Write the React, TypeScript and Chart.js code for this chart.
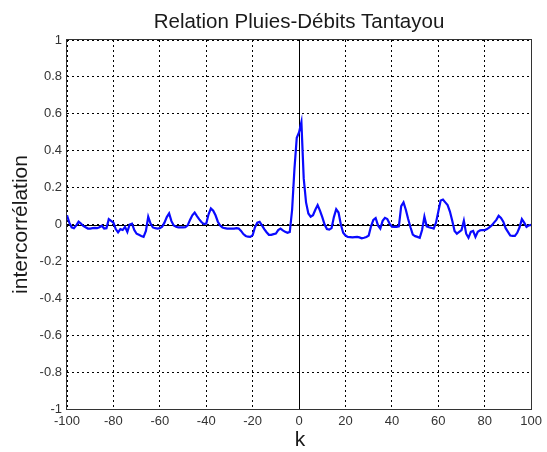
import React, { useEffect, useRef } from "react";
import { Chart, registerables } from "chart.js";

Chart.register(...registerables);

const TITLE = "Relation Pluies-Débits Tantayou";
const X_LABEL = "k";
const Y_LABEL = "intercorrélation";

const LAG_START = -100;
const X_TICKS = [-100, -80, -60, -40, -20, 0, 20, 40, 60, 80, 100];
const Y_TICKS = [-1, -0.8, -0.6, -0.4, -0.2, 0, 0.2, 0.4, 0.6, 0.8, 1];

// cross-correlation values for k = -100 .. 100
const XCORR = [
  // -100 .. -91
  0.05, 0.01, -0.015, -0.02, -0.005, 0.015, 0.005, -0.008, -0.015, -0.022,
  // -90 .. -81
  -0.022, -0.02, -0.018, -0.02, -0.015, -0.007, -0.022, -0.02, 0.029, 0.02,
  // -80 .. -71
  0.01, -0.025, -0.043, -0.025, -0.03, -0.013, -0.04, 0.0, 0.005, -0.03,
  // -70 .. -61
  -0.05, -0.056, -0.062, -0.067, -0.035, 0.042, 0.005, -0.016, -0.02, -0.022,
  // -60 .. -51
  -0.02, -0.012, 0.01, 0.04, 0.06, 0.018, -0.005, -0.012, -0.016, -0.016,
  // -50 .. -41
  -0.016, -0.015, -0.005, 0.025, 0.05, 0.065, 0.045, 0.028, 0.012, 0.002,
  // -40 .. -31
  0.005, 0.055, 0.087, 0.075, 0.05, 0.015, -0.006, -0.016, -0.02, -0.022,
  // -30 .. -21
  -0.022, -0.022, -0.022, -0.02, -0.022, -0.035, -0.052, -0.062, -0.066, -0.067,
  // -20 .. -11
  -0.058, -0.015, 0.01, 0.014, -0.005, -0.025, -0.042, -0.056, -0.056, -0.052,
  // -10 .. -1
  -0.049, -0.03, -0.022, -0.032, -0.04, -0.045, -0.04, 0.08, 0.3, 0.47,
  // 0 .. 9
  0.5, 0.555, 0.25, 0.12, 0.06, 0.042, 0.05, 0.08, 0.105, 0.075,
  // 10 .. 19
  0.04, 0.0, -0.025, -0.028, -0.02, 0.04, 0.083, 0.065, 0.0, -0.045,
  // 20 .. 29
  -0.06, -0.067, -0.068, -0.07, -0.068, -0.067, -0.07, -0.075, -0.072, -0.068,
  // 30 .. 39
  -0.06, -0.01, 0.025, 0.035, -0.005, -0.022, 0.02, 0.036, 0.03, 0.005,
  // 40 .. 49
  -0.012, -0.013, -0.013, -0.01, 0.1, 0.12, 0.08, 0.03, -0.015, -0.055,
  // 50 .. 59
  -0.063, -0.067, -0.072, -0.03, 0.042, -0.01, -0.015, -0.018, -0.022, 0.01,
  // 60 .. 69
  0.07, 0.13, 0.135, 0.12, 0.105, 0.07, 0.02, -0.035, -0.05, -0.04,
  // 70 .. 79
  -0.03, 0.02, -0.05, -0.072, -0.04, -0.035, -0.067, -0.04, -0.032, -0.03,
  // 80 .. 89
  -0.03, -0.025, -0.015, -0.005, 0.01, 0.025, 0.047, 0.036, 0.015, -0.02,
  // 90 .. 100
  -0.04, -0.06, -0.062, -0.062, -0.045, -0.015, 0.029, 0.01, -0.013, -0.005, -0.002,
];

const FONT = "'Liberation Sans', Arial, sans-serif";

const overlay = {
  id: "matlabOverlay",
  beforeDatasetsDraw(chart: any) {
    const { ctx, chartArea: a, scales } = chart;
    const x0 = Math.round(scales.x.getPixelForValue(0)) + 0.5;
    const y0 = Math.round(scales.y.getPixelForValue(0)) + 0.5;
    ctx.save();
    ctx.strokeStyle = "#000";
    ctx.lineWidth = 1;
    ctx.beginPath();
    ctx.moveTo(x0, a.top);
    ctx.lineTo(x0, a.bottom);
    ctx.moveTo(a.left, y0);
    ctx.lineTo(a.right, y0);
    ctx.stroke();
    ctx.restore();
  },
  afterDraw(chart: any) {
    const { ctx, chartArea: a } = chart;
    ctx.save();
    ctx.strokeStyle = "#333";
    ctx.lineWidth = 1;
    ctx.strokeRect(Math.round(a.left) - 0.5, Math.round(a.top) - 0.5, Math.round(a.right - a.left) + 1, Math.round(a.bottom - a.top) + 1);

    ctx.fillStyle = "#1a1a1a";
    ctx.textAlign = "center";
    ctx.textBaseline = "middle";
    ctx.font = `20.5px ${FONT}`;
    ctx.fillText(TITLE, 299, 22);

    ctx.font = `21px ${FONT}`;
    ctx.fillText(X_LABEL, 300, 440);

    ctx.translate(21, (a.top + a.bottom) / 2);
    ctx.rotate(-Math.PI / 2);
    ctx.fillText(Y_LABEL, 0, 0);
    ctx.restore();
  },
};

export default function App() {
  const ref = useRef<HTMLCanvasElement | null>(null);

  useEffect(() => {
    if (!ref.current) return;
    const points = XCORR.map((v, i) => ({ x: LAG_START + i, y: v }));
    const chart = new Chart(ref.current, {
      type: "line",
      data: {
        datasets: [
          {
            data: points,
            borderColor: "#0a0aff",
            borderWidth: 2.2,
            pointRadius: 0,
            tension: 0,
            fill: false,
          },
        ],
      },
      options: {
        responsive: false,
        animation: false,
        devicePixelRatio: 1,
        layout: { padding: { top: 40, right: 10, left: 0, bottom: 0 } },
        plugins: {
          legend: { display: false },
          title: { display: false },
          tooltip: { enabled: false },
        },
        scales: {
          x: {
            type: "linear",
            min: X_TICKS[0],
            max: X_TICKS[X_TICKS.length - 1],
            afterFit: (s: any) => {
              s.height = 43;
            },
            afterBuildTicks: (s: any) => {
              s.ticks = X_TICKS.map((v) => ({ value: v }));
            },
            ticks: {
              color: "#333",
              font: { family: FONT, size: 13 },
              padding: 5,
              maxRotation: 0,
              autoSkip: false,
              callback: (v: any) => String(v),
            },
            grid: { color: "#000", lineWidth: 1, drawTicks: false },
            border: { display: false, dash: [2, 3] },
          },
          y: {
            type: "linear",
            min: Y_TICKS[0],
            max: Y_TICKS[Y_TICKS.length - 1],
            afterFit: (s: any) => {
              s.width = 67;
            },
            afterBuildTicks: (s: any) => {
              s.ticks = Y_TICKS.map((v) => ({ value: v }));
            },
            ticks: {
              color: "#333",
              font: { family: FONT, size: 13 },
              padding: 5,
              autoSkip: false,
              callback: (v: any) => String(Math.round(Number(v) * 10) / 10),
            },
            grid: { color: "#000", lineWidth: 1, drawTicks: false },
            border: { display: false, dash: [2, 3] },
          },
        },
      },
      plugins: [overlay],
    });
    return () => chart.destroy();
  }, []);

  return (
    <div style={{ position: "absolute", left: 0, top: 0, width: 547, height: 452, background: "#fff" }}>
      <canvas ref={ref} width={547} height={452} style={{ display: "block" }} />
    </div>
  );
}
